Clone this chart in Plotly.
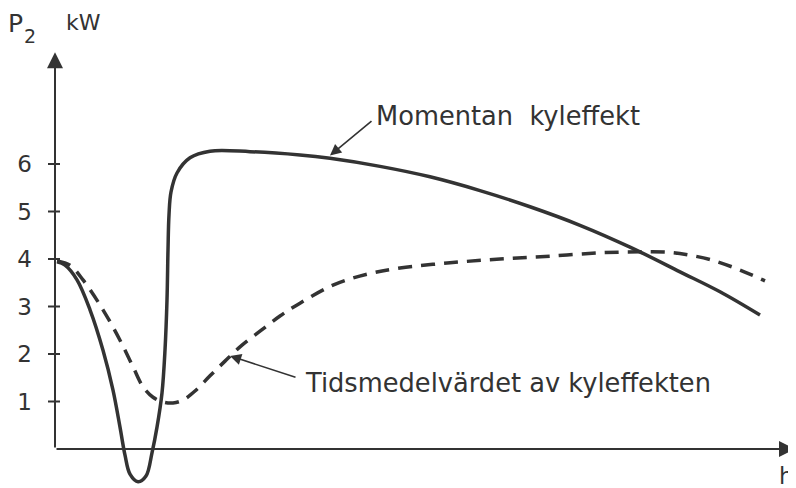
import plotly.graph_objects as go

# Time axis (arbitrary hour units, no scale given) and power values in kW
t_momentan = [0.2, 1.0, 2.2, 3.5, 4.8, 5.8, 6.5, 7.0, 7.5, 8.3, 9.1, 9.7, 10.2, 10.7, 11.0,
              11.2, 11.3, 11.4, 11.6, 12.2, 13.5, 15.5, 19.5, 24.5, 27.5, 32.5, 37.5, 42.5,
              47.5, 52.5, 57.5, 62.5, 66.5, 70.5]
p_momentan = [3.94, 3.87, 3.56, 2.93, 2.08, 1.24, 0.46, -0.13, -0.53, -0.69, -0.57, -0.08, 0.46,
              1.18, 2.08, 3.14, 4.19, 4.93, 5.41, 5.81, 6.13, 6.27, 6.26, 6.19, 6.12, 5.95, 5.73,
              5.44, 5.10, 4.71, 4.25, 3.73, 3.31, 2.82]

t_medel = [0.2, 1.5, 2.8, 4.8, 6.5, 7.8, 8.8, 9.8, 10.8, 11.8, 12.8, 14.0, 15.5, 17.0, 18.5,
           20.5, 22.5, 24.5, 27.8, 31.2, 34.5, 39.5, 44.5, 49.5, 54.5, 58.5, 61.5, 63.5,
           65.5, 68.0, 71.0]
p_medel = [3.96, 3.87, 3.56, 2.93, 2.29, 1.73, 1.31, 1.09, 0.99, 0.97, 1.03, 1.22, 1.54, 1.85,
           2.15, 2.48, 2.80, 3.07, 3.45, 3.68, 3.81, 3.92, 4.00, 4.06, 4.13, 4.15, 4.14, 4.08,
           3.99, 3.81, 3.54]

y_ticks = [1, 2, 3, 4, 5, 6]
y_ticklabels = ["1", "2", "3", "4", "5", "6"]

label_momentan = "Momentan  kyleffekt"
label_medel = "Tidsmedelvärdet av kyleffekten"

INK = "#333333"
FONT = "DejaVu Sans"

fig = go.Figure()
fig.add_trace(go.Scatter(x=t_momentan, y=p_momentan, mode="lines",
                         line=dict(color=INK, width=3.5, shape="spline", smoothing=1.0),
                         hoverinfo="skip", showlegend=False))
fig.add_trace(go.Scatter(x=t_medel, y=p_medel, mode="lines",
                         line=dict(color=INK, width=3.5, dash="14px,9px", shape="spline", smoothing=1.0),
                         hoverinfo="skip", showlegend=False))

# tick marks crossing the y axis
for v in y_ticks:
    fig.add_shape(type="line", xref="paper", yref="y", x0=-7/741, x1=5/741, y0=v, y1=v,
                  line=dict(color=INK, width=2))

ann = []
# axes with arrowheads
ann.append(dict(x=0, y=8.35, ax=0, ay=0, xref="x", yref="y", axref="x", ayref="y",
                showarrow=True, arrowhead=2, arrowsize=1.6, arrowwidth=2, arrowcolor=INK, text=""))
ann.append(dict(x=74.0, y=0, ax=0, ay=0, xref="x", yref="y", axref="x", ayref="y",
                showarrow=True, arrowhead=2, arrowsize=1.6, arrowwidth=2, arrowcolor=INK, text=""))
# axis titles
ann.append(dict(x=-49/741, y=8.95, xref="paper", yref="y", xanchor="left", yanchor="middle",
                text="P", showarrow=False, font=dict(family=FONT, size=25, color=INK)))
ann.append(dict(x=-33/741, y=8.70, xref="paper", yref="y", xanchor="left", yanchor="middle",
                text="2", showarrow=False, font=dict(family=FONT, size=19, color=INK)))
ann.append(dict(x=9/741, y=8.97, xref="paper", yref="y", xanchor="left", yanchor="middle",
                text="kW", showarrow=False, font=dict(family=FONT, size=22, color=INK)))
ann.append(dict(x=74.05, y=-0.821, xref="x", yref="y", xanchor="right", yanchor="bottom",
                yshift=-3, text="h", showarrow=False, font=dict(family=FONT, size=23, color=INK)))
# curve labels with pointer arrows
ann.append(dict(x=31.9, y=7.01, xref="x", yref="y", xanchor="left", yanchor="middle",
                text=label_momentan, showarrow=False, font=dict(family=FONT, size=25.7, color=INK)))
ann.append(dict(x=27.5, y=6.18, ax=31.8, ay=6.93, xref="x", yref="y", axref="x", ayref="y",
                showarrow=True, arrowhead=2, arrowsize=1.4, arrowwidth=1.6, arrowcolor=INK, text=""))
ann.append(dict(x=24.8, y=1.40, xref="x", yref="y", xanchor="left", yanchor="middle",
                text=label_medel, showarrow=False, font=dict(family=FONT, size=25.7, color=INK)))
ann.append(dict(x=17.5, y=1.96, ax=24.2, ay=1.50, xref="x", yref="y", axref="x", ayref="y",
                showarrow=True, arrowhead=2, arrowsize=1.4, arrowwidth=1.6, arrowcolor=INK, text=""))

# page body has an 8px margin, so the figure is 8px smaller than the window
fig.update_layout(
    width=788, height=480,
    margin=dict(l=47, r=0, t=0, b=0),
    paper_bgcolor="white", plot_bgcolor="white",
    annotations=ann,
    xaxis=dict(range=[0, 74.1], showgrid=False, zeroline=False, showline=False,
               showticklabels=False, ticks=""),
    yaxis=dict(range=[-0.821, 9.284], showgrid=False, zeroline=False, showline=False,
               tickmode="array", tickvals=y_ticks, ticktext=y_ticklabels, ticks="",
               ticklabelstandoff=22, tickfont=dict(family=FONT, size=23, color=INK)),
)

fig.write_html("out.html")
